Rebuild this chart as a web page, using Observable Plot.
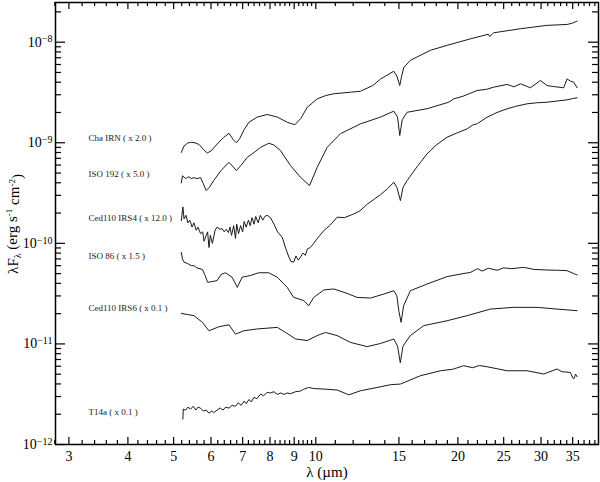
<!DOCTYPE html>
<html>
<head>
<meta charset="utf-8">
<title>Spectra</title>
<script src="https://cdn.jsdelivr.net/npm/d3@7"></script>
<script src="https://cdn.jsdelivr.net/npm/@observablehq/plot@0.6"></script>
<style>
  html, body { margin: 0; padding: 0; background: #ffffff; }
  svg { display: block; }
</style>
</head>
<body>
<div id="chart"></div>
<script>
// Wavelength (µm) and scaled lambda*F_lambda (erg s^-1 cm^-2)
const chaIRN_wl = [5.19,5.26,5.35,5.43,5.55,5.66,5.78,5.89,6.02,6.18,6.38,6.55,6.68,6.79,6.90,7.05,7.22,7.52,7.89,8.29,8.70,9.03,9.30,9.59,10.07,10.5,10.92,11.84,12.43,13.2,13.71,14.63,14.85,15.06,15.2,15.36,15.86,17.49,18.97,21.26,23.2,23.35,23.81,27.13,30.90,34.06,35.0,35.77];
const chaIRN_flux = [8.0e-10,9.3e-10,9.9e-10,1.01e-9,1.0e-9,9.6e-10,8.6e-10,7.9e-10,8.4e-10,9.7e-10,1.13e-9,1.24e-9,1.08e-9,1.0e-9,1.1e-9,1.35e-9,1.6e-9,1.8e-9,1.91e-9,1.8e-9,1.6e-9,1.51e-9,1.75e-9,2.25e-9,2.73e-9,2.95e-9,3.07e-9,3.18e-9,3.25e-9,3.7e-9,4.3e-9,5.14e-9,4.6e-9,3.7e-9,4.6e-9,5.6e-9,6.6e-9,8.3e-9,9.3e-9,1.08e-8,1.2e-8,1.14e-8,1.24e-8,1.36e-8,1.47e-8,1.50e-8,1.55e-8,1.62e-8];

const iso192_wl = [5.19,5.22,5.30,5.38,5.45,5.52,5.60,5.70,5.78,5.86,5.95,6.08,6.30,6.55,6.79,6.95,7.16,7.40,7.64,7.95,8.15,8.42,8.84,9.28,9.70,10.07,10.57,11.28,12.43,13.71,14.63,14.9,15.06,15.25,15.61,17.21,19.12,19.6,20.5,21.96,23.0,23.81,25.42,26.3,27.13,28.48,29.91,30.9,31.91,33.5,34.06,34.6,35.18,35.77];
const iso192_flux = [4.0e-10,4.7e-10,4.4e-10,4.6e-10,4.4e-10,4.5e-10,4.4e-10,4.5e-10,3.9e-10,3.35e-10,3.6e-10,4.21e-10,5.3e-10,6.4e-10,5.29e-10,6.0e-10,7.17e-10,8.0e-10,9.0e-10,9.89e-10,9.5e-10,8.36e-10,5.93e-10,4.54e-10,3.75e-10,5.7e-10,9.0e-10,1.23e-9,1.54e-9,1.8e-9,2.06e-9,1.8e-9,1.18e-9,1.7e-9,2.01e-9,2.18e-9,2.53e-9,2.73e-9,2.9e-9,3.31e-9,3.4e-9,3.57e-9,3.8e-9,3.6e-9,3.86e-9,3.52e-9,4.16e-9,3.7e-9,3.62e-9,3.52e-9,4.32e-9,4.1e-9,4.0e-9,3.52e-9];

const irs4_wl = [5.19,5.23,5.26,5.31,5.36,5.41,5.47,5.52,5.58,5.63,5.70,5.76,5.80,5.86,5.90,5.94,5.98,6.04,6.12,6.18,6.27,6.33,6.40,6.46,6.53,6.58,6.63,6.70,6.76,6.80,6.86,6.93,7.00,7.05,7.12,7.20,7.26,7.33,7.40,7.46,7.55,7.63,7.72,7.80,7.89,8.02,8.15,8.30,8.49,8.63,8.77,8.86,8.98,9.08,9.18,9.28,9.40,9.50,9.60,9.74,9.90,10.05,10.2,10.4,10.7,11.1,11.5,12.03,12.4,12.85,13.3,13.71,14.2,14.63,14.85,15.11,15.3,15.61,16.4,17.21,18.0,18.97,19.9,20.92,21.5,22.0,23.06,24.2,25.42,26.5,28.03,29.5,30.9,32.5,34.06,35.0,35.77];
const irs4_flux = [1.68e-10,2.3e-10,1.75e-10,1.9e-10,1.6e-10,1.7e-10,1.45e-10,1.6e-10,1.35e-10,1.45e-10,1.25e-10,1.3e-10,1.05e-10,1.2e-10,1.3e-10,9.1e-11,1.2e-10,1.0e-10,1.35e-10,1.45e-10,1.38e-10,1.4e-10,1.3e-10,1.38e-10,1.28e-10,1.45e-10,1.2e-10,1.5e-10,1.12e-10,1.55e-10,1.25e-10,1.5e-10,1.3e-10,1.65e-10,1.45e-10,1.7e-10,1.5e-10,1.8e-10,1.55e-10,1.85e-10,1.6e-10,1.9e-10,1.7e-10,1.85e-10,1.9e-10,1.8e-10,1.56e-10,1.3e-10,1.15e-10,9.0e-11,7.3e-11,6.6e-11,6.5e-11,7.5e-11,6.8e-11,7.3e-11,8.0e-11,7.6e-11,8.8e-11,9.1e-11,1.0e-10,1.1e-10,1.2e-10,1.34e-10,1.5e-10,1.82e-10,1.8e-10,1.96e-10,2.1e-10,2.45e-10,2.75e-10,3.05e-10,3.5e-10,4.05e-10,3.6e-10,2.66e-10,3.6e-10,4.21e-10,5.8e-10,7.76e-10,9.5e-10,1.135e-9,1.25e-9,1.375e-9,1.5e-9,1.55e-9,1.795e-9,2.0e-9,2.175e-9,2.3e-9,2.44e-9,2.5e-9,2.53e-9,2.6e-9,2.67e-9,2.75e-9,2.8e-9];

const iso86_wl = [5.19,5.22,5.26,5.35,5.45,5.52,5.60,5.75,5.83,5.90,6.00,6.18,6.30,6.44,6.65,6.82,6.98,7.28,7.57,7.95,8.29,8.70,8.98,9.43,9.66,9.90,10.40,10.92,11.65,12.23,13.06,13.93,14.63,14.85,15.0,15.16,15.35,15.86,17.21,18.97,20.5,21.26,22.0,22.5,23.2,24.21,25.0,26.0,27.57,29.0,30.9,32.5,34.06,35.2,35.77];
const iso86_flux = [8.1e-11,7.0e-11,6.5e-11,6.3e-11,6.0e-11,6.0e-11,5.7e-11,5.5e-11,4.8e-11,4.1e-11,4.15e-11,4.26e-11,4.9e-11,5.1e-11,4.6e-11,3.65e-11,4.6e-11,4.8e-11,5.1e-11,5.1e-11,4.6e-11,3.65e-11,2.9e-11,2.7e-11,2.4e-11,2.9e-11,3.44e-11,3.52e-11,3.18e-11,2.9e-11,2.86e-11,3.13e-11,3.38e-11,3.0e-11,2.1e-11,1.64e-11,2.4e-11,3.38e-11,3.94e-11,4.67e-11,5.0e-11,5.14e-11,5.6e-11,5.3e-11,5.65e-11,5.4e-11,5.7e-11,5.6e-11,5.77e-11,5.5e-11,5.43e-11,5.4e-11,5.35e-11,5.0e-11,4.85e-11];

const irs6_wl = [5.19,5.35,5.52,5.75,5.94,6.23,6.55,6.76,7.04,7.52,8.29,8.63,9.06,9.59,10.07,10.48,11.1,11.84,12.85,13.71,14.39,14.63,14.9,15.1,15.3,15.86,16.93,18.97,20.92,23.43,26.25,29.43,32.43,35.77];
const irs6_flux = [2.01e-11,1.96e-11,1.91e-11,1.64e-11,1.35e-11,1.48e-11,1.55e-11,1.25e-11,1.35e-11,1.41e-11,1.46e-11,1.30e-11,1.12e-11,1.08e-11,1.21e-11,1.30e-11,1.21e-11,1.035e-11,9.4e-12,1.01e-11,1.09e-11,1.12e-11,9.5e-12,6.5e-12,9.5e-12,1.21e-11,1.52e-11,1.70e-11,1.91e-11,2.22e-11,2.31e-11,2.31e-11,2.22e-11,2.14e-11];

const t14a_wl = [5.23,5.24,5.30,5.36,5.43,5.50,5.57,5.63,5.70,5.78,5.86,5.94,6.02,6.08,6.18,6.28,6.36,6.44,6.55,6.65,6.76,6.85,6.95,7.05,7.12,7.22,7.30,7.40,7.50,7.64,7.75,7.89,8.02,8.15,8.29,8.42,8.56,8.70,8.84,9.06,9.28,9.43,9.66,9.90,10.4,11.1,11.75,12.43,13.49,14.39,15.11,16.66,18.37,19.5,20.57,21.5,22.2,23.06,25.42,28.03,30.39,32.43,33.2,34.62,35.0,35.18,35.5,35.77];
const t14a_flux = [1.79e-12,2.25e-12,2.2e-12,2.35e-12,2.25e-12,2.4e-12,2.2e-12,2.35e-12,2.3e-12,2.15e-12,2.2e-12,2.05e-12,2.15e-12,2.08e-12,2.2e-12,2.3e-12,2.2e-12,2.35e-12,2.3e-12,2.45e-12,2.4e-12,2.6e-12,2.45e-12,2.7e-12,2.55e-12,2.8e-12,2.65e-12,2.95e-12,2.85e-12,3.17e-12,3.05e-12,3.3e-12,3.25e-12,3.35e-12,3.15e-12,3.25e-12,3.15e-12,3.25e-12,3.2e-12,3.35e-12,3.4e-12,3.55e-12,3.69e-12,3.6e-12,3.56e-12,3.48e-12,3.12e-12,3.42e-12,3.69e-12,3.93e-12,3.99e-12,4.83e-12,5.41e-12,5.6e-12,6.07e-12,5.8e-12,6.1e-12,5.93e-12,5.41e-12,5.41e-12,5.02e-12,5.63e-12,5.3e-12,5.2e-12,4.6e-12,4.48e-12,5.0e-12,4.72e-12];

const labelNames = ["Cha IRN ( x 2.0 )","ISO 192 ( x 5.0 )","Ced110 IRS4 ( x 12.0 )","ISO 86 ( x 1.5 )","Ced110 IRS6 ( x 0.1 )","T14a ( x 0.1 )"];
const labelWl = [3.3,3.3,3.3,3.3,3.3,3.3];
const labelFlux = [1.11e-9,4.89e-10,1.80e-10,7.43e-11,2.29e-11,2.08e-12];

const xMajor = [3,4,5,6,7,8,9,10,15,20,25,30,35];
const xMinor = [2.8,3.2,3.4,3.6,3.8,4.2,4.4,4.6,4.8,5.2,5.4,5.6,5.8,6.2,6.4,6.6,6.8,7.2,7.4,7.6,7.8,8.2,8.4,8.6,8.8,9.2,9.4,9.6,9.8,11,12,13,14,16,17,18,19,21,22,23,24,26,27,28,29,31,32,33,34,36,37,38,39];
const yMajor = [1e-12,1e-11,1e-10,1e-9,1e-8];
const yMinor = [2e-12,3e-12,4e-12,5e-12,6e-12,7e-12,8e-12,9e-12,2e-11,3e-11,4e-11,5e-11,6e-11,7e-11,8e-11,9e-11,2e-10,3e-10,4e-10,5e-10,6e-10,7e-10,8e-10,9e-10,2e-9,3e-9,4e-9,5e-9,6e-9,7e-9,8e-9,9e-9,2e-8];

const SERIF = "Liberation Serif";
const WIDTH = 600, HEIGHT = 482, ML = 55, MR = 2, MT = 2, MB = 38;
const FW = WIDTH - ML - MR, FH = HEIGHT - MT - MB;

const allSeries = [
  [chaIRN_wl, chaIRN_flux],
  [iso192_wl, iso192_flux],
  [irs4_wl, irs4_flux],
  [iso86_wl, iso86_flux],
  [irs6_wl, irs6_flux],
  [t14a_wl, t14a_flux]
];
const curves = allSeries.map(([wl, fl]) =>
  Plot.line(wl.map((w, i) => ({w, f: fl[i]})), {x: "w", y: "f", stroke: "#1a1a1a", strokeWidth: 1})
);
const labelRows = labelNames.map((t, i) => ({t, w: labelWl[i], f: labelFlux[i]}));

const tickXMark = (vals, side, len) => Plot.tickX(vals, {
  x: d => d, stroke: "black", strokeWidth: 1.2,
  insetTop: side === "bottom" ? FH - len : 0,
  insetBottom: side === "top" ? FH - len : 0
});
const tickYMark = (vals, side, len) => Plot.tickY(vals, {
  y: d => d, stroke: "black", strokeWidth: 1.2,
  insetRight: side === "left" ? FW - len : 0,
  insetLeft: side === "right" ? FW - len : 0
});

const chartSvg = Plot.plot({
  width: WIDTH, height: HEIGHT,
  marginLeft: ML, marginRight: MR, marginTop: MT, marginBottom: MB,
  x: {type: "log", domain: [2.81, 39.7]},
  y: {type: "log", domain: [1e-12, 2.48e-8]},
  marks: [
    ...curves,
    Plot.text(labelRows, {x: "w", y: "f", text: "t", textAnchor: "start", fontSize: 9, fontFamily: SERIF, fill: "#222"}),
    tickXMark(xMajor, "bottom", 7), tickXMark(xMinor, "bottom", 4),
    tickXMark(xMajor, "top", 7), tickXMark(xMinor, "top", 4),
    tickYMark(yMajor, "left", 10), tickYMark(yMinor, "left", 6),
    tickYMark(yMajor, "right", 10), tickYMark(yMinor, "right", 6),
    Plot.axisX({ticks: xMajor, tickSize: 0, tickPadding: 7, tickFormat: d => String(d), fontSize: 14, fontFamily: SERIF, fill: "black", label: null}),
    Plot.axisY({ticks: yMajor, tickSize: 0, tickPadding: 3, tickFormat: d => "10^" + Math.round(Math.log10(d)), fontSize: 14, fontFamily: SERIF, fill: "black", label: null}),
    Plot.frame({stroke: "black", strokeWidth: 1.5})
  ]
});
document.getElementById("chart").appendChild(chartSvg);

const root = d3.select(chartSvg);
root.selectAll("g[aria-label='y-axis tick label'] text").each(function() {
  const s = d3.select(this);
  const txt = s.text();
  if (!txt.startsWith("10^")) return;
  const exp = txt.slice(3).replace("-", "\u2212");
  s.text("");
  s.append("tspan").text("10");
  s.append("tspan").attr("dy", "-0.42em").attr("font-size", "10px").text(exp);
});

root.append("text")
  .attr("x", 327).attr("y", 477)
  .attr("text-anchor", "middle")
  .attr("font-family", SERIF)
  .attr("font-size", 15)
  .attr("fill", "black")
  .text("\u03bb (\u00b5m)");

const yTitle = root.append("text")
  .attr("transform", "translate(18,224) rotate(-90)")
  .attr("text-anchor", "middle")
  .attr("font-family", SERIF)
  .attr("font-size", 15)
  .attr("fill", "black");
yTitle.append("tspan").text("\u03bbF");
yTitle.append("tspan").attr("dy", "0.3em").attr("font-size", "10px").text("\u03bb");
yTitle.append("tspan").attr("dy", "-0.3em").text(" (erg s");
yTitle.append("tspan").attr("dy", "-0.45em").attr("font-size", "9px").text("-1");
yTitle.append("tspan").attr("dy", "0.45em").text(" cm");
yTitle.append("tspan").attr("dy", "-0.45em").attr("font-size", "9px").text("-2");
yTitle.append("tspan").attr("dy", "0.45em").text(")");
</script>
</body>
</html>
